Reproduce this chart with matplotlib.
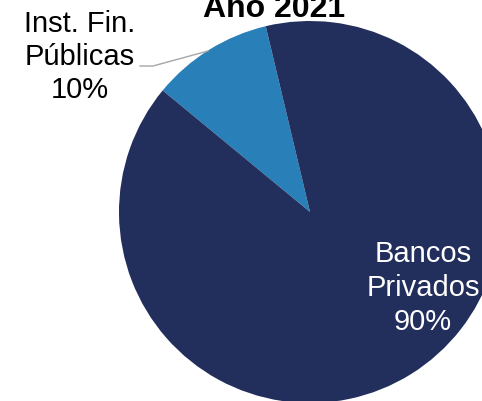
import matplotlib
matplotlib.use("Agg")
import matplotlib.pyplot as plt

categories = ["Inst. Fin.\nPúblicas", "Bancos\nPrivados"]
values = [10.3, 89.7]
pct_labels = ["10%", "90%"]
colors = ["#2980B9", "#222E5B"]
title = "Año 2021"

plt.rcParams['font.family'] = ['Liberation Sans', 'DejaVu Sans']

W, H = 482, 402
fig = plt.figure(figsize=(W / 100, H / 100), dpi=100)
ax = fig.add_axes([0, 0, 1, 1])

cx, cy, r = 310, H - 213, 191
ax.pie(values, colors=colors, startangle=103.4, counterclock=True,
       center=(cx, cy), radius=r, frame=True,
       wedgeprops=dict(linewidth=0))
ax.set_xlim(0, W)
ax.set_ylim(0, H)
ax.set_aspect('equal')
ax.axis('off')

ax.text(274, H - 17, title, ha='center', va='baseline', fontsize=23,
        fontweight='bold', color='black')

ax.text(80, H - 57, categories[0] + "\n" + pct_labels[0], ha='center',
        va='center', fontsize=21, color='black', linespacing=1.23)
ax.plot([140, 153, 208], [H - 67, H - 67, H - 52], color='#A6A6A6', lw=1)

ax.text(423, H - 288, categories[1] + "\n" + pct_labels[1], ha='center',
        va='center', fontsize=21, color='white', linespacing=1.28)

fig.savefig("out.png", dpi=100)
